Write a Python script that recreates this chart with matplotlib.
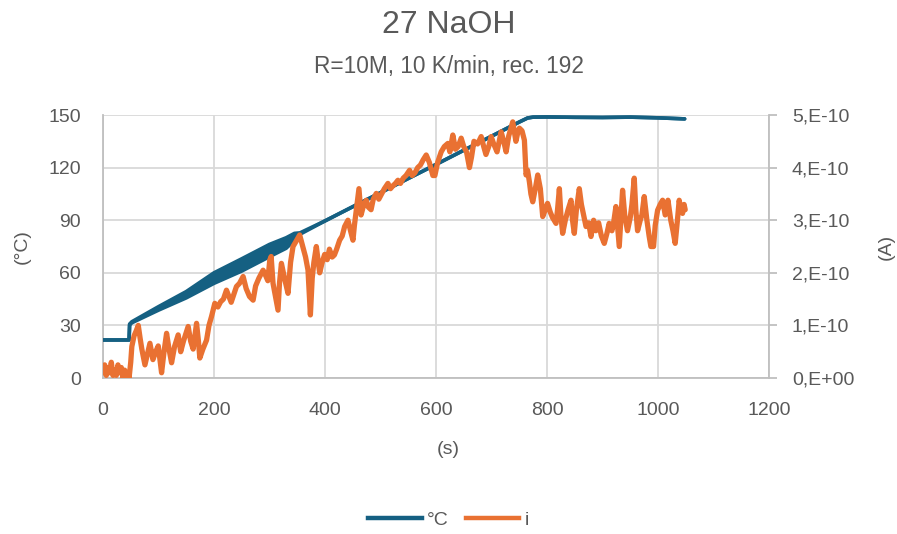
import numpy as np
import matplotlib
matplotlib.use("Agg")
import matplotlib.pyplot as plt
from matplotlib.lines import Line2D
from matplotlib.ticker import FixedLocator

# ---------------- data ----------------
title = "27 NaOH"
subtitle = "R=10M, 10 K/min, rec. 192"

# temperature (°C): lower / upper envelope of the oscillating trace
t_temp = [0, 47, 48, 52, 100, 150, 200, 250, 300, 330, 345, 355, 400, 450, 500, 550,
          600, 650, 700, 750, 765, 775, 800, 850, 900, 950, 1000, 1048]
T_low = [21.7, 21.7, 30.2, 31.5, 38.7, 45.7, 54.0, 61.0, 69.2, 74.0, 78.5, 82.0, 89.6, 97.7,
         105.7, 113.8, 121.8, 129.9, 137.9, 146.0, 148.3, 148.8, 148.9, 148.7, 148.6, 148.8,
         148.4, 147.8]
T_high = [21.7, 21.7, 30.8, 32.1, 40.7, 49.3, 60.0, 68.0, 76.2, 80.0, 82.5, 82.8, 89.6, 97.7,
          105.7, 113.8, 121.8, 129.9, 137.9, 146.0, 148.3, 148.8, 148.9, 148.7, 148.6, 148.8,
          148.4, 147.8]

# current i (in units of 1e-10 A)
t_cur = [0, 3, 6, 9, 12, 15, 18, 21, 24, 27, 30, 33, 36, 39, 42, 45, 47,
         50, 52, 56, 60, 63.6, 67, 70, 75.6, 80, 84.6, 90, 95, 99.6, 105.6, 110, 114.6, 119,
         123.6, 129, 135.5, 140, 145, 153.5, 158, 162.5, 168.6, 172, 174.5, 180, 186.6, 191,
         195.6, 201.5, 207, 212, 217, 222.5, 227, 231, 236, 240.5, 246, 252.5, 258, 264,
         270.5, 275, 281, 288.5, 293, 297, 300.5, 303, 306.4, 310, 315.4, 318, 321.5, 327,
         333.4, 338, 342.4, 348, 354.4, 360, 365, 369.4, 373.7, 377, 380, 384.4, 390.4, 395,
         399.4, 404, 408, 413, 417, 421, 426.4, 431, 435.4, 441.4, 446, 450.4, 453, 456.4,
         461.2, 465, 470, 474.4, 478, 483, 487, 492.4, 497, 502, 507, 513.4, 518, 522, 527,
         531.4, 536, 541, 546, 552.4, 557, 562, 567, 572, 577, 582.4, 588, 594.4, 598, 603,
         609.4, 615, 621.4, 625, 630.3, 635, 640, 645.4, 650, 655, 660.3, 664, 668.4, 675,
         681.4, 686, 690, 695, 699.4, 704, 710, 717.4, 722, 726.4, 731, 738.3, 744, 747,
         750.3, 755, 759.3, 762.3, 765, 768.3, 771, 774.3, 779, 783.3, 788, 792.3, 797, 801,
         806, 810, 816.3, 819, 822.3, 825, 828.2, 833, 838, 843.3, 846, 849.2, 853, 858.2,
         862, 866, 870.3, 875, 879.3, 884, 888, 893, 898, 903.2, 908, 912, 917, 920, 924.2,
         927, 930.2, 933, 936.2, 940, 945, 950, 953, 957.2, 960, 963.2, 968, 971, 975.2, 980,
         984, 987.2, 992, 995, 999.3, 1004, 1008.3, 1013, 1018, 1023, 1027, 1031, 1035,
         1038.2, 1041, 1044.2, 1047, 1049]
i_cur = [0.10, 0.25, 0.05, 0.20, 0.10, 0.30, 0.05, 0.15, 0.05, 0.25, 0.10, 0.20, 0.00, 0.15,
         0.05, 0.10, 0.00,
         0.30, 0.60, 0.80, 0.90, 1.00, 0.75, 0.55, 0.25, 0.45, 0.66, 0.35, 0.50, 0.61, 0.10,
         0.50, 0.85, 0.55, 0.29, 0.60, 0.82, 0.50, 0.70, 0.98, 0.70, 0.55, 1.04, 0.70, 0.38,
         0.55, 0.72, 1.00, 1.17, 1.42, 1.35, 1.45, 1.50, 1.67, 1.55, 1.44, 1.60, 1.74, 1.80,
         1.93, 1.70, 1.55, 1.48, 1.75, 1.90, 2.05, 1.95, 1.85, 2.24, 2.31, 1.80, 1.60, 1.29,
         1.80, 2.18, 1.90, 1.61, 2.20, 2.50, 2.60, 2.72, 2.50, 2.30, 2.05, 1.20, 1.90, 2.20,
         2.50, 2.00, 2.20, 2.35, 2.25, 2.45, 2.30, 2.34, 2.45, 2.62, 2.70, 2.88, 3.00, 2.80,
         2.62, 2.90, 3.19, 3.60, 3.10, 3.30, 3.38, 3.25, 3.20, 3.40, 3.51, 3.40, 3.50, 3.60,
         3.70, 3.60, 3.65, 3.70, 3.76, 3.70, 3.80, 3.85, 3.95, 3.85, 3.90, 4.00, 4.05, 4.15,
         4.24, 4.10, 3.85, 3.85, 4.10, 4.30, 4.40, 4.46, 4.30, 4.62, 4.35, 4.40, 4.56, 4.40,
         4.30, 4.00, 4.20, 4.50, 4.45, 4.59, 4.40, 4.25, 4.40, 4.59, 4.45, 4.30, 4.68, 4.50,
         4.30, 4.60, 4.87, 4.50, 4.65, 4.75, 4.70, 4.52, 3.86, 3.95, 3.73, 3.50, 3.35, 3.60,
         3.86, 3.60, 3.07, 3.20, 3.32, 3.15, 3.05, 2.94, 3.20, 3.60, 3.10, 2.75, 3.00, 3.20,
         3.38, 3.00, 2.75, 3.20, 3.60, 3.30, 3.10, 2.88, 2.95, 2.69, 3.00, 2.80, 2.95, 2.70,
         2.56, 2.75, 2.94, 2.80, 2.95, 3.26, 2.90, 2.50, 3.00, 3.57, 3.10, 2.80, 3.05, 3.30,
         3.80, 3.20, 2.80, 3.00, 3.10, 3.45, 3.00, 2.70, 2.50, 2.50, 2.90, 3.19, 3.30, 3.38,
         3.10, 3.38, 3.00, 2.80, 2.56, 3.00, 3.38, 3.20, 3.13, 3.30, 3.20]

x_ticks = [0, 200, 400, 600, 800, 1000, 1200]
y_ticks = [0, 30, 60, 90, 120, 150]
y2_ticks = [0, 1e-10, 2e-10, 3e-10, 4e-10, 5e-10]
y2_labels = ["0,E+00", "1,E-10", "2,E-10", "3,E-10", "4,E-10", "5,E-10"]

# ---------------- style ----------------
FONT = ["Liberation Sans", "DejaVu Sans"]
plt.rcParams["font.family"] = FONT
TXT = "#595959"
GRID = "#D9D9D9"
SPINE = "#BFBFBF"
BLUE = "#156082"
ORANGE = "#E97132"

fig = plt.figure(figsize=(8.97, 5.34), dpi=100)
ax = fig.add_axes([0.1148, 0.2921, 0.7425, 0.4925])
ax2 = ax.twinx()

t_temp_a = np.array(t_temp)
T_low_a = np.array(T_low)
T_high_a = np.array(T_high)
ax.fill_between(t_temp_a, T_low_a, T_high_a, color=BLUE, lw=0, zorder=3)
ax.plot(t_temp_a, T_low_a, color=BLUE, lw=2.6, solid_capstyle="round", zorder=3)
ax.plot(t_temp_a, T_high_a, color=BLUE, lw=2.6, solid_capstyle="round", zorder=3)

i_amp = np.array(i_cur) * 1e-10
ax2.plot(t_cur, i_amp, color=ORANGE, lw=3.8, solid_joinstyle="round",
         solid_capstyle="round", zorder=3)

ax.set_xlim(0, 1200)
ax.set_ylim(0, 150)
ax2.set_ylim(0, 5e-10)

ax.xaxis.set_major_locator(FixedLocator(x_ticks))
ax.yaxis.set_major_locator(FixedLocator(y_ticks))
ax2.yaxis.set_major_locator(FixedLocator(y2_ticks))
ax2.set_yticklabels(y2_labels)

ax.grid(True, color=GRID, lw=1.3)
ax.set_axisbelow(True)

for a in (ax, ax2):
    for s in a.spines.values():
        s.set_visible(False)
for a, side in ((ax, "left"), (ax, "bottom"), (ax2, "right")):
    a.spines[side].set_visible(True)
    a.spines[side].set_color(SPINE)
    a.spines[side].set_linewidth(1.3)

ax.tick_params(axis="x", length=0, pad=17, labelsize=14, labelcolor=TXT)
ax.tick_params(axis="y", length=0, pad=16, labelsize=14, labelcolor=TXT)
ax2.tick_params(axis="y", length=5.5, width=1.3, color=SPINE, pad=11, labelsize=14,
                labelcolor=TXT)

fig.text(0.5, 0.953, title, ha="center", va="center", fontsize=23, color=TXT)
fig.text(0.5, 0.876, subtitle, ha="center", va="center", fontsize=16.3, color=TXT)
fig.text(0.5, 0.159, "(s)", ha="center", va="center", fontsize=14, color=TXT)
fig.text(0.0245, 0.538, "(°C)", ha="center", va="center", rotation=90, fontsize=14, color=TXT)
fig.text(0.9885, 0.538, "(A)", ha="center", va="center", rotation=90, fontsize=14, color=TXT)

handles = [Line2D([0], [0], color=BLUE, lw=3.2), Line2D([0], [0], color=ORANGE, lw=3.2)]
leg = fig.legend(handles, ["°C", "i"], loc="center", bbox_to_anchor=(0.5, 0.026), ncol=2,
                 frameon=False, fontsize=14, handlelength=2.75, handletextpad=0.25,
                 columnspacing=0.9)
for txt in leg.get_texts():
    txt.set_color(TXT)

fig.savefig("out.png", dpi=100)
